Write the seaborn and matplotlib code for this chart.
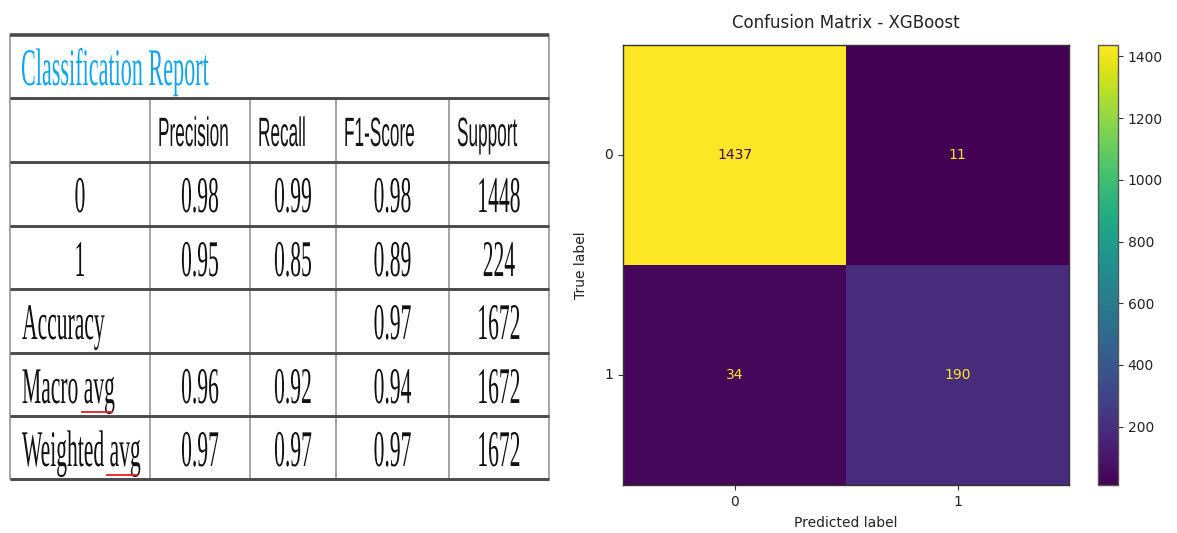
import matplotlib
matplotlib.use("Agg")
import matplotlib.pyplot as plt
import numpy as np
import pandas as pd
import seaborn as sns
from matplotlib.patheffects import AbstractPathEffect
from matplotlib.transforms import Affine2D

# ---- classification report ----
report_columns = ["Precision", "Recall", "F1-Score", "Support"]
row_labels = ["0", "1", "Accuracy", "Macro avg", "Weighted avg"]
precision = [0.98, 0.95, None, 0.96, 0.97]
recall = [0.99, 0.85, None, 0.92, 0.97]
f1_score = [0.98, 0.89, 0.97, 0.94, 0.97]
support = [1448, 224, 1672, 1672, 1672]

# ---- confusion matrix (rows: true label, columns: predicted label) ----
class_labels = ["0", "1"]
cm_true0 = [1437, 11]
cm_true1 = [34, 190]


class Tall(AbstractPathEffect):
    """Stretch glyphs vertically about the baseline (a condensed look)."""

    def __init__(self, sy=2.4):
        super().__init__()
        self.sy = sy

    def draw_path(self, renderer, gc, tpath, affine, rgbFace=None):
        pre = Affine2D().scale(1.0, self.sy)
        renderer.draw_path(gc, tpath, pre + affine, rgbFace)


W, H = 1177, 533
fig = plt.figure(figsize=(W / 100, H / 100), dpi=100)
fig.patch.set_facecolor("white")

# ---------------- report table (pixel coordinates) ----------------
tab = fig.add_axes([0, 0, 1, 1])
tab.set_xlim(0, W)
tab.set_ylim(H, 0)
tab.axis("off")

col_edges = [10, 150, 250, 336, 449, 549]
row_edges = [35, 98, 162, 226, 289, 353, 416, 479]

for i, y in enumerate(row_edges):
    lw = 2.6 if i == 0 else 2.1
    tab.plot([col_edges[0], col_edges[-1]], [y, y], color="#4a4a4a", lw=lw,
             solid_capstyle="butt", zorder=3)
for j, x in enumerate(col_edges):
    top = row_edges[0] if j in (0, len(col_edges) - 1) else row_edges[1]
    tab.plot([x, x], [top, row_edges[-1]], color="#8c8c8c", lw=1.1, zorder=2)

serif = "Liberation Serif"
sans = "Liberation Sans"
sq = 0.42
stretch = [Tall(1.0 / sq)]

tab.text(21, 85, "Classification Report", family=serif, fontsize=38 * sq,
         color="#14a4ea", ha="left", va="baseline", path_effects=stretch)

for j, name in enumerate(report_columns):
    tab.text(col_edges[j + 1] + 8, 146, name, family=sans, fontsize=29.5 * sq,
             color="#151515", ha="left", va="baseline", path_effects=stretch)

body = 37 * sq
columns_values = [precision, recall, f1_score, support]
for r, label in enumerate(row_labels):
    base = row_edges[r + 2] + 50
    if label in ("0", "1"):
        tab.text(0.5 * (col_edges[0] + col_edges[1]), base, label, family=serif,
                 fontsize=body, color="#111111", ha="center", va="baseline",
                 path_effects=stretch)
    else:
        tab.text(22, base, label, family=serif, fontsize=body, color="#111111",
                 ha="left", va="baseline", path_effects=stretch)
    for c, values in enumerate(columns_values):
        v = values[r]
        if v is None:
            continue
        txt = f"{v:d}" if isinstance(v, int) else f"{v:.2f}"
        tab.text(0.5 * (col_edges[c + 1] + col_edges[c + 2]), base, txt,
                 family=serif, fontsize=body, color="#111111", ha="center",
                 va="baseline", path_effects=stretch)

# spell-check underline under "avg"
tab.plot([82, 112], [412, 412], color="#e02020", lw=1.3, zorder=4)
tab.plot([107, 137], [475, 475], color="#e02020", lw=1.3, zorder=4)

# ---------------- confusion matrix heatmap ----------------
cm = pd.DataFrame([cm_true0, cm_true1], index=class_labels, columns=class_labels)

left, right, top, bottom = 623, 1069, 45, 485
axh = fig.add_axes([left / W, 1 - bottom / H, (right - left) / W, (bottom - top) / H])
axc = fig.add_axes([1098 / W, 1 - bottom / H, 20 / W, (bottom - top) / H])

sns.heatmap(cm, ax=axh, cbar_ax=axc, cmap="viridis", annot=True, fmt="d",
            annot_kws={"fontsize": 10})

cmap = plt.get_cmap("viridis")
vals = cm.values
thresh = (vals.max() + vals.min()) / 2.0
for t, v in zip(axh.texts, vals.flat):
    t.set_color(cmap(0.0) if v >= thresh else cmap(1.0))

for s in axh.spines.values():
    s.set_visible(True)
    s.set_color("#333333")
    s.set_linewidth(1.0)

axh.set_yticklabels(class_labels, rotation=0, va="center")
axh.set_xticklabels(class_labels, rotation=0)
axh.tick_params(length=3.5, width=0.8, colors="#333333", labelsize=10,
                labelcolor="#222222")
axh.set_title("Confusion Matrix - XGBoost", fontsize=12, color="#222222", pad=12.5)
axh.set_xlabel("Predicted label", fontsize=10, color="#222222", labelpad=5)
axh.set_ylabel("True label", fontsize=10, color="#222222", labelpad=12)

cb = axh.collections[0].colorbar
cb.outline.set_linewidth(1.0)
cb.outline.set_edgecolor("#555555")
cb.ax.tick_params(length=3.5, width=0.8, labelsize=10, colors="#333333",
                  labelcolor="#222222")

fig.savefig("out.png", dpi=100, facecolor="white")
